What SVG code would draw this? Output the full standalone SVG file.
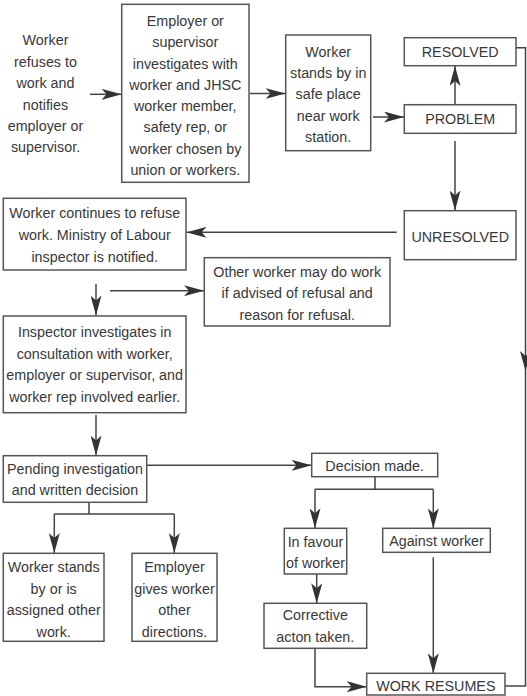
<svg xmlns="http://www.w3.org/2000/svg" width="527" height="696" viewBox="0 0 527 696">
<defs>
<marker id="ah" viewBox="0 0 20 11" refX="20" refY="5.5" markerWidth="20" markerHeight="11" markerUnits="userSpaceOnUse" orient="auto">
<path d="M0,0 L20,5.5 L0,11 L5,5.5 z" fill="#333"/>
</marker>
</defs>
<style>
rect{fill:#fff;stroke:#555;stroke-width:1.5}
text{font-family:"Liberation Sans",Arial,Helvetica,sans-serif;font-size:15px;fill:#383838;text-anchor:middle;transform-box:fill-box;transform-origin:center;transform:scaleX(0.955)}
.c path,.c line{fill:none;stroke:#444;stroke-width:1.5}
.a{marker-end:url(#ah)}
</style>
<rect x="0" y="0" width="527" height="696" style="fill:#fff;stroke:none"/>
<g class="c" id="connectors">
<line class="a" x1="90" y1="94.3" x2="121.5" y2="94.3"/>
<line class="a" x1="250" y1="93.5" x2="285.5" y2="93.5"/>
<line class="a" x1="373" y1="117" x2="404" y2="117"/>
<line class="a" x1="455" y1="104.5" x2="455" y2="66"/>
<line class="a" x1="455" y1="141" x2="455" y2="210.5"/>
<line class="a" x1="396.7" y1="232.3" x2="186.5" y2="232.3"/>
<line class="a" x1="96" y1="284" x2="96" y2="315.5"/>
<line class="a" x1="110" y1="290.7" x2="204" y2="290.7"/>
<line class="a" x1="96" y1="415" x2="96" y2="455.5"/>
<line class="a" x1="147" y1="465.3" x2="311.5" y2="465.3"/>
<path d="M89,502.3 V514 M54.3,514 H174.3"/>
<line class="a" x1="54.3" y1="514" x2="54.3" y2="553"/>
<line class="a" x1="174.3" y1="514" x2="174.3" y2="553"/>
<path d="M375,477 V489.3 M315,489.3 H433.3"/>
<line class="a" x1="315" y1="489.3" x2="315" y2="528.3"/>
<line class="a" x1="433.3" y1="489.3" x2="433.3" y2="528.3"/>
<line class="a" x1="316.7" y1="574" x2="316.7" y2="603.3"/>
<line class="a" x1="433.3" y1="557.3" x2="433.3" y2="673.3"/>
<path class="a" d="M315,648.3 V686.7 H366.7"/>
<path class="a" d="M516,47.7 H525.5 V371"/>
<path d="M525.5,371 V686 H505"/>
</g>
<g id="n-worker-refuses">
<text x="45.5" y="45.4">Worker</text>
<text x="45.5" y="66.8">refuses to</text>
<text x="45.5" y="88.2">work and</text>
<text x="45.5" y="109.6">notifies</text>
<text x="45.5" y="131">employer or</text>
<text x="45.5" y="152.4">supervisor.</text>
</g>
<g id="n-employer-investigates">
<rect x="121.7" y="4.3" width="127.3" height="178"/>
<text x="185.3" y="26">Employer or</text>
<text x="185.3" y="47.3">supervisor</text>
<text x="185.3" y="68.6">investigates with</text>
<text x="185.3" y="89.9">worker and JHSC</text>
<text x="185.3" y="111.2">worker member,</text>
<text x="185.3" y="132.5">safety rep, or</text>
<text x="185.3" y="153.8">worker chosen by</text>
<text x="185.3" y="175.1">union or workers.</text>
</g>
<g id="n-worker-stands-safe">
<rect x="285.7" y="35" width="85" height="115.7"/>
<text x="328.2" y="57">Worker</text>
<text x="328.2" y="78.2">stands by in</text>
<text x="328.2" y="99.4">safe place</text>
<text x="328.2" y="120.6">near work</text>
<text x="328.2" y="141.8">station.</text>
</g>
<g id="n-resolved">
<rect x="404.3" y="37.7" width="111.7" height="28"/>
<text x="460.2" y="57">RESOLVED</text>
</g>
<g id="n-problem">
<rect x="404.3" y="104.7" width="111.7" height="28.6"/>
<text x="460.2" y="124.4">PROBLEM</text>
</g>
<g id="n-unresolved">
<rect x="404.3" y="210.7" width="111.7" height="49"/>
<text x="460.2" y="242">UNRESOLVED</text>
</g>
<g id="n-continues">
<rect x="3.3" y="198.3" width="182.7" height="71.7"/>
<text x="94.7" y="218.5">Worker continues to refuse</text>
<text x="94.7" y="240.2">work. Ministry of Labour</text>
<text x="94.7" y="261.9">inspector is notified.</text>
</g>
<g id="n-other-worker">
<rect x="204.3" y="257.7" width="185.7" height="68.3"/>
<text x="297.2" y="277">Other worker may do work</text>
<text x="297.2" y="298.5">if advised of refusal and</text>
<text x="297.2" y="320">reason for refusal.</text>
</g>
<g id="n-inspector">
<rect x="3.3" y="316" width="182.7" height="96.7"/>
<text x="94.7" y="337">Inspector investigates in</text>
<text x="94.7" y="358.7">consultation with worker,</text>
<text x="94.7" y="380.4">employer or supervisor, and</text>
<text x="94.7" y="402.1">worker rep involved earlier.</text>
</g>
<g id="n-pending">
<rect x="3.3" y="455.7" width="143.4" height="46.6"/>
<text x="75" y="473.7">Pending investigation</text>
<text x="75" y="495.4">and written decision</text>
</g>
<g id="n-worker-stands-by">
<rect x="3.3" y="553.3" width="100.7" height="88"/>
<text x="53.7" y="572">Worker stands</text>
<text x="53.7" y="593.7">by or is</text>
<text x="53.7" y="615.4">assigned other</text>
<text x="53.7" y="637.1">work.</text>
</g>
<g id="n-employer-gives">
<rect x="132" y="553.3" width="85" height="88"/>
<text x="174.5" y="572">Employer</text>
<text x="174.5" y="593.7">gives worker</text>
<text x="174.5" y="615.4">other</text>
<text x="174.5" y="637.1">directions.</text>
</g>
<g id="n-decision">
<rect x="311.7" y="453.3" width="126" height="23.4"/>
<text x="374.7" y="471">Decision made.</text>
</g>
<g id="n-favour">
<rect x="284.3" y="528.3" width="62.4" height="45.7"/>
<text x="315.5" y="546.8">In favour</text>
<text x="315.5" y="568.5">of worker</text>
</g>
<g id="n-against">
<rect x="382.7" y="528.3" width="107.6" height="24"/>
<text x="436.5" y="546.4">Against worker</text>
</g>
<g id="n-corrective">
<rect x="264" y="603.3" width="102.7" height="45"/>
<text x="315.3" y="620.4">Corrective</text>
<text x="315.3" y="642">acton taken.</text>
</g>
<g id="n-work-resumes">
<rect x="366.7" y="673.3" width="138.3" height="21.7"/>
<text x="435.8" y="690.7">WORK RESUMES</text>
</g>
</svg>
